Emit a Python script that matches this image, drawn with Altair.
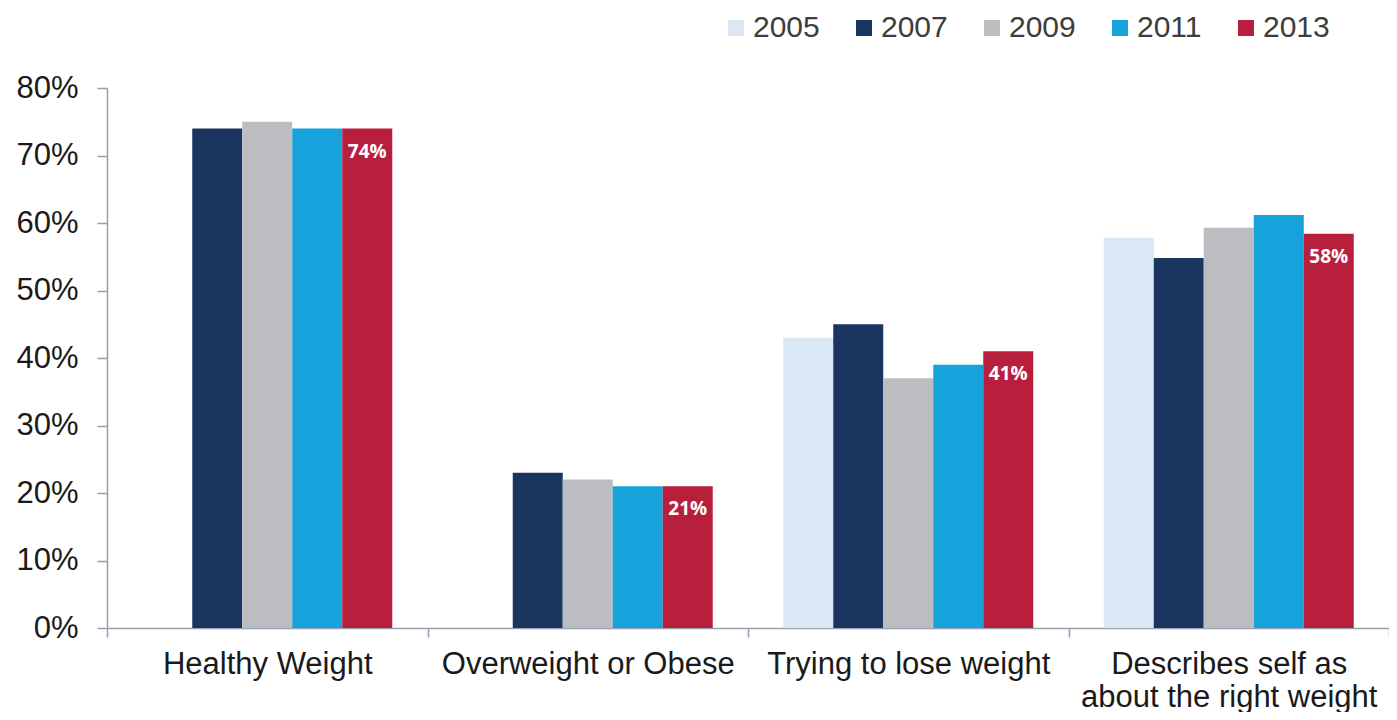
import altair as alt
import pandas as pd

categories = ["Healthy Weight", "Overweight or Obese", "Trying to lose weight",
              "Describes self as about the right weight"]
years = ["2005", "2007", "2009", "2011", "2013"]
colors = ["#d9e8f4", "#1a3660", "#bcbdc1", "#17a2dc", "#b81f3c"]

# None = no bar shown for that year
v2005 = [None, None, 43, 57.8]
v2007 = [74, 23, 45, 54.8]
v2009 = [75, 22, 37, 59.3]
v2011 = [74, 21, 39, 61.2]
v2013 = [74, 21, 41, 58.4]

series = dict(zip(years, [v2005, v2007, v2009, v2011, v2013]))
rows = []
for y in years:
    for c, v in zip(categories, series[y]):
        if v is not None:
            rows.append({"category": c, "year": y, "value": v,
                         "label": f"{round(v)}%"})
df = pd.DataFrame(rows)

FONT = "Liberation Sans, Arial, sans-serif"
AXIS_COLOR = "#9a9fb0"

x_enc = alt.X("category:N", sort=categories,
              scale=alt.Scale(paddingInner=0, paddingOuter=0),
              axis=alt.Axis(title=None, labelAngle=0, labelFontSize=31, labelFont=FONT,
                            labelColor="#1a1a1a", labelLimit=500, labelPadding=12,
                            labelBaseline="top", labelLineHeight=33,
                            labelExpr="datum.label == 'Describes self as about the right weight' ? ['Describes self as', 'about the right weight'] : datum.label",
                            tickBand="extent", tickSize=9, tickColor=AXIS_COLOR, tickWidth=1.5,
                            domainColor=AXIS_COLOR, domainWidth=1.5))
xoff_enc = alt.XOffset("year:N", sort=years,
                       scale=alt.Scale(domain=years, paddingOuter=0.705, paddingInner=0))
y_enc = alt.Y("value:Q",
              scale=alt.Scale(domain=[0, 80], nice=False),
              axis=alt.Axis(title=None, values=list(range(0, 81, 10)), grid=False,
                            labelExpr="datum.value + '%'", labelFontSize=31, labelFont=FONT,
                            labelColor="#1a1a1a", labelPadding=19, tickSize=10,
                            tickColor=AXIS_COLOR, tickWidth=1.5,
                            domainColor=AXIS_COLOR, domainWidth=1.5))

bars = alt.Chart(df).mark_bar().encode(
    x=x_enc, xOffset=xoff_enc, y=y_enc,
    color=alt.Color("year:N", sort=years,
                    scale=alt.Scale(domain=years, range=colors),
                    legend=alt.Legend(title=None, orient="none", direction="horizontal",
                                      legendX=614, legendY=-75, symbolType="square",
                                      symbolSize=256, symbolStrokeWidth=0,
                                      labelFontSize=30, labelFont=FONT, labelColor="#3d3d3d",
                                      labelOffset=2, columnPadding=29)),
)

labels = alt.Chart(df).transform_filter(alt.datum.year == "2013").mark_text(
    color="white", fontWeight="bold", fontSize=19, font="Open Sans",
    baseline="middle", dy=23,
).encode(x=x_enc, xOffset=xoff_enc, y=y_enc, text="label:N")

chart = alt.layer(bars, labels).properties(
    width=1282, height=540,
    autosize=alt.AutoSizeParams(type="none"),
    padding={"left": 99, "top": 80, "right": 0, "bottom": 84},
).configure_view(stroke=None)

chart.save("out.html", embed_options={"renderer": "svg", "actions": False})
